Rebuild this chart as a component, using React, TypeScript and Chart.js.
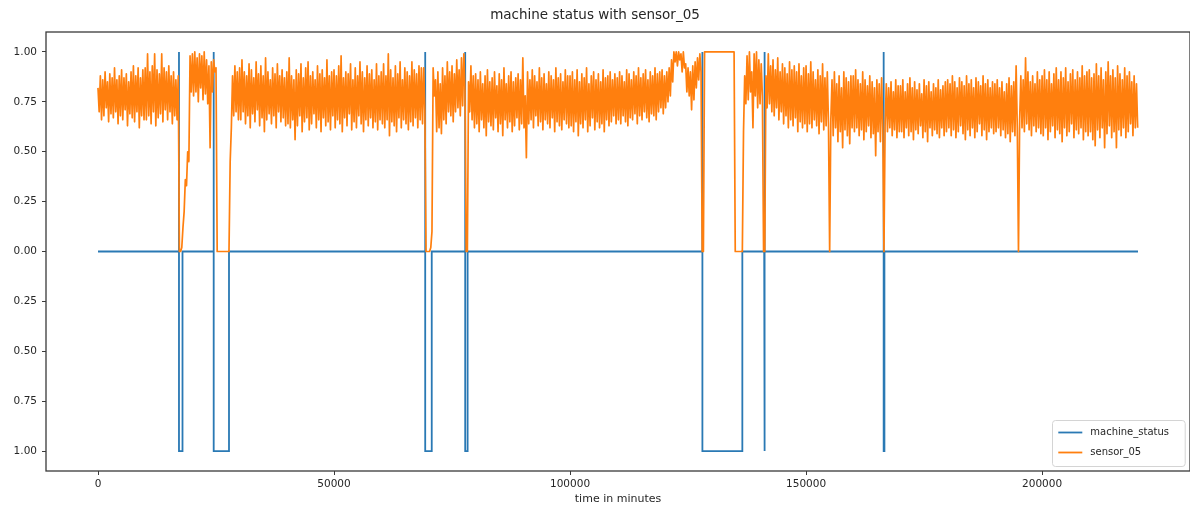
import React, { useEffect, useRef } from "react";
import { Chart, registerables } from "chart.js";

Chart.register(...registerables);

const TITLE = "machine status with sensor_05";
const X_LABEL = "time in minutes";
const SERIES_NAMES = ["machine_status", "sensor_05"];
const X_TICKS = [0, 50000, 100000, 150000, 200000];
const Y_TICKS = [-1, -0.75, -0.5, -0.25, 0, 0.25, 0.5, 0.75, 1];
const Y_TICK_LABELS = ["1.00", "0.75", "0.50", "0.25", "0.00", "0.25", "0.50", "0.75", "1.00"];
const X_MIN = -11016;
const X_MAX = 231336;
const Y_MIN = -1.1;
const Y_MAX = 1.1;

// machine_status: 0 normal, 1 broken, -1 recovering
const STATUS_TIMES = [
  0, 17154, 17155, 17156, 17900, 17901,
  24509, 24510, 24511, 27750, 27751,
  69317, 69318, 69319, 70700, 70701,
  77789, 77790, 77791, 78300, 78301,
  128039, 128040, 128041, 136500, 136501,
  141130, 141131, 141132, 141300, 141301,
  166439, 166440, 166441, 166600, 166601,
  220320,
];
const STATUS_VALUES = [
  0, 0, 1, -1, -1, 0,
  0, 1, -1, -1, 0,
  0, 1, -1, -1, 0,
  0, 1, -1, -1, 0,
  0, 1, -1, -1, 0,
  0, 1, -1, -1, 0,
  0, 1, -1, -1, 0,
  0,
];

// sensor_05: per 500-minute bin, the peak (at bin start) and trough (at bin middle)
const SENSOR_STEP = 500;
const SENSOR_05_HIGH = [
  0.82,0.88,0.86,0.90,0.85,0.89,0.87,0.92,0.86,0.88,0.91,0.87,0.89,0.85,0.90,0.93,0.88,0.92,0.87,0.91,
  0.92,0.99,0.90,0.93,0.99,0.91,0.89,0.99,0.92,0.90,0.93,0.88,0.90,0.86,0.88,0.00,0.12,0.36,0.50,0.98,
  0.99,1.00,0.97,0.99,0.98,1.00,0.96,0.93,0.95,0.96,0.92,0.00,0.00,0.00,0.00,0.00,0.45,0.88,0.93,0.90,
  0.92,0.96,0.90,0.88,0.94,0.91,0.87,0.95,0.89,0.93,0.88,0.97,0.90,0.86,0.92,0.89,0.94,0.88,0.91,0.87,
  0.90,0.97,0.88,0.86,0.91,0.89,0.94,0.87,0.92,0.95,0.88,0.90,0.86,0.93,0.89,0.91,0.87,0.96,0.88,0.90,
  0.91,0.88,0.93,0.98,0.87,0.90,0.89,0.94,0.86,0.92,0.88,0.95,0.90,0.87,0.93,0.89,0.91,0.86,0.94,0.88,
  0.90,0.94,0.88,0.99,0.91,0.87,0.93,0.89,0.95,0.86,0.92,0.90,0.88,0.95,0.91,0.89,0.93,0.92,0.92,0.00,
  0.00,0.02,0.92,0.86,0.90,0.84,0.92,0.88,0.95,0.90,0.93,0.89,0.96,0.91,0.97,0.99,0.00,0.85,0.93,0.88,
  0.89,0.86,0.90,0.84,0.88,0.91,0.85,0.87,0.90,0.83,0.89,0.86,0.92,0.84,0.88,0.90,0.85,0.87,0.89,0.86,
  0.97,0.78,0.90,0.86,0.91,0.88,0.85,0.92,0.87,0.89,0.84,0.90,0.88,0.86,0.92,0.87,0.89,0.85,0.91,0.88,
  0.88,0.90,0.86,0.91,0.85,0.89,0.87,0.92,0.84,0.88,0.90,0.86,0.89,0.85,0.91,0.87,0.88,0.90,0.86,0.89,
  0.87,0.90,0.88,0.85,0.91,0.89,0.86,0.90,0.88,0.92,0.87,0.89,0.91,0.86,0.90,0.88,0.92,0.89,0.90,0.91,
  0.88,0.90,0.92,0.96,1.00,1.00,1.00,0.99,1.00,0.94,0.92,0.90,0.93,0.95,0.97,0.99,0.00,1.00,1.00,1.00,
  1.00,1.00,1.00,1.00,1.00,1.00,1.00,1.00,1.00,1.00,0.00,0.00,0.00,0.00,0.88,0.98,1.00,0.90,0.99,1.00,
  0.96,0.94,0.00,0.88,0.99,0.93,0.96,0.91,0.97,0.90,0.94,0.92,0.89,0.95,0.91,0.93,0.90,0.94,0.88,0.92,
  0.93,0.89,0.95,0.90,0.86,0.91,0.88,0.94,0.87,0.90,0.00,0.86,0.90,0.84,0.88,0.82,0.90,0.87,0.85,0.88,
  0.88,0.91,0.86,0.84,0.90,0.86,0.83,0.88,0.85,0.82,0.86,0.84,0.87,0.00,0.84,0.82,0.85,0.80,0.86,0.83,
  0.83,0.86,0.80,0.84,0.87,0.82,0.85,0.81,0.84,0.79,0.86,0.83,0.85,0.80,0.84,0.82,0.86,0.81,0.83,0.85,
  0.86,0.84,0.88,0.85,0.82,0.87,0.85,0.83,0.88,0.84,0.86,0.82,0.87,0.85,0.83,0.88,0.84,0.86,0.82,0.85,
  0.84,0.86,0.82,0.85,0.80,0.84,0.87,0.83,0.85,0.93,0.00,0.88,0.86,0.97,0.90,0.85,0.88,0.84,0.90,0.86,
  0.88,0.91,0.86,0.90,0.84,0.89,0.92,0.86,0.90,0.87,0.92,0.85,0.89,0.91,0.86,0.90,0.87,0.93,0.88,0.90,
  0.91,0.87,0.89,0.94,0.88,0.92,0.86,0.90,0.95,0.88,0.91,0.87,0.93,0.89,0.86,0.92,0.88,0.90,0.85,0.88,
  0.84,
];
const SENSOR_05_LOW = [
  0.70,0.66,0.68,0.72,0.65,0.69,0.67,0.70,0.64,0.68,0.66,0.71,0.63,0.69,0.67,0.65,0.70,0.62,0.68,0.66,
  0.66,0.68,0.64,0.70,0.63,0.67,0.69,0.65,0.71,0.66,0.70,0.64,0.68,0.66,0.00,0.02,0.20,0.33,0.45,0.80,
  0.78,0.80,0.75,0.82,0.76,0.79,0.74,0.52,0.80,0.90,0.00,0.00,0.00,0.00,0.00,0.00,0.62,0.68,0.70,0.66,
  0.66,0.70,0.64,0.68,0.62,0.69,0.65,0.71,0.63,0.67,0.60,0.66,0.69,0.64,0.68,0.62,0.70,0.65,0.67,0.63,
  0.64,0.62,0.66,0.56,0.63,0.68,0.60,0.65,0.67,0.61,0.64,0.69,0.62,0.66,0.60,0.67,0.63,0.65,0.61,0.68,
  0.62,0.66,0.64,0.60,0.67,0.63,0.69,0.61,0.65,0.62,0.68,0.64,0.60,0.66,0.63,0.67,0.62,0.65,0.61,0.66,
  0.64,0.62,0.66,0.58,0.65,0.63,0.60,0.67,0.62,0.66,0.64,0.61,0.65,0.63,0.67,0.62,0.66,0.64,0.70,0.00,
  0.00,0.10,0.78,0.60,0.62,0.59,0.66,0.64,0.70,0.68,0.65,0.70,0.72,0.68,0.73,0.80,0.00,0.70,0.66,0.62,
  0.64,0.60,0.66,0.62,0.58,0.65,0.63,0.61,0.67,0.60,0.64,0.58,0.66,0.62,0.65,0.60,0.63,0.67,0.61,0.64,
  0.62,0.47,0.64,0.66,0.62,0.68,0.63,0.65,0.61,0.66,0.64,0.62,0.67,0.60,0.65,0.63,0.61,0.66,0.64,0.62,
  0.63,0.60,0.65,0.58,0.64,0.62,0.66,0.60,0.63,0.67,0.61,0.65,0.62,0.64,0.60,0.66,0.63,0.65,0.68,0.64,
  0.66,0.64,0.68,0.65,0.63,0.67,0.66,0.69,0.64,0.68,0.66,0.70,0.67,0.65,0.69,0.68,0.66,0.70,0.72,0.69,
  0.72,0.75,0.78,0.85,0.95,0.93,0.96,0.90,0.92,0.80,0.78,0.71,0.76,0.82,0.86,0.90,0.00,1.00,1.00,1.00,
  1.00,1.00,1.00,1.00,1.00,1.00,1.00,1.00,1.00,1.00,0.00,0.00,0.00,0.60,0.74,0.76,0.80,0.62,0.78,0.72,
  0.74,0.78,0.00,0.72,0.74,0.70,0.68,0.72,0.66,0.70,0.64,0.68,0.62,0.66,0.63,0.67,0.60,0.65,0.62,0.64,
  0.60,0.64,0.62,0.66,0.63,0.59,0.65,0.61,0.63,0.64,0.66,0.58,0.62,0.55,0.60,0.52,0.61,0.58,0.54,0.62,
  0.60,0.62,0.58,0.61,0.56,0.60,0.63,0.57,0.59,0.48,0.60,0.55,0.62,0.64,0.60,0.62,0.58,0.61,0.57,0.60,
  0.60,0.57,0.62,0.58,0.60,0.56,0.61,0.59,0.63,0.57,0.60,0.55,0.62,0.58,0.61,0.59,0.57,0.62,0.58,0.60,
  0.62,0.58,0.61,0.57,0.60,0.63,0.59,0.56,0.61,0.58,0.62,0.57,0.60,0.64,0.58,0.61,0.56,0.60,0.62,0.59,
  0.60,0.62,0.58,0.61,0.57,0.59,0.55,0.60,0.58,0.62,0.66,0.62,0.60,0.64,0.61,0.58,0.63,0.60,0.62,0.59,
  0.58,0.62,0.56,0.60,0.63,0.57,0.61,0.59,0.55,0.62,0.58,0.60,0.64,0.57,0.61,0.59,0.62,0.56,0.60,0.58,
  0.60,0.56,0.53,0.61,0.57,0.62,0.52,0.59,0.63,0.57,0.60,0.52,0.61,0.58,0.62,0.57,0.60,0.64,0.58,0.62,
  0.62,
];

const FONT = "'DejaVu Sans', sans-serif";
const TEXT_COLOR = "#262626";
const AXIS_COLOR = "#3a3a3a";
const BLUE = "#2a79b4";
const ORANGE = "#ff7f0e";

const framePlugin = {
  id: "frame",
  afterDatasetsDraw(chart: any) {
    const { ctx, chartArea } = chart;
    const { left, top, right, bottom } = chartArea;
    ctx.save();
    ctx.strokeStyle = AXIS_COLOR;
    ctx.lineWidth = 1.3;
    ctx.strokeRect(left, top, right - left, bottom - top);
    ctx.restore();
  },
};

const legendPlugin = {
  id: "boxLegend",
  afterDraw(chart: any) {
    const { ctx, chartArea } = chart;
    ctx.save();
    ctx.font = `10px ${FONT}`;
    const textW = Math.max(...SERIES_NAMES.map((n) => ctx.measureText(n).width));
    const w = textW + 54;
    const h = 46;
    const x = chartArea.right - 5 - w;
    const y = chartArea.bottom - 5 - h;
    ctx.beginPath();
    (ctx as any).roundRect(Math.round(x) + 0.5, Math.round(y) + 0.5, w, h, 3);
    ctx.fillStyle = "rgba(255,255,255,0.85)";
    ctx.fill();
    ctx.strokeStyle = "#d4d4d4";
    ctx.lineWidth = 1;
    ctx.stroke();
    chart.data.datasets.forEach((ds: any, i: number) => {
      const cy = y + 12.5 + i * 20;
      ctx.strokeStyle = ds.borderColor;
      ctx.lineWidth = 1.8;
      ctx.beginPath();
      ctx.moveTo(x + 6, cy);
      ctx.lineTo(x + 30, cy);
      ctx.stroke();
      ctx.fillStyle = TEXT_COLOR;
      ctx.textBaseline = "middle";
      ctx.textAlign = "left";
      ctx.fillText(ds.label, x + 38, cy);
    });
    ctx.restore();
  },
};

export default function App() {
  const ref = useRef<HTMLCanvasElement>(null);

  useEffect(() => {
    document.body.style.margin = "0";
    const canvas = ref.current;
    if (!canvas) return;
    const statusPoints = STATUS_TIMES.map((t, i) => ({ x: t, y: STATUS_VALUES[i] }));
    const sensorPoints = SENSOR_05_HIGH.flatMap((hi, i) => [
      { x: i * SENSOR_STEP, y: hi },
      { x: i * SENSOR_STEP + SENSOR_STEP / 2, y: SENSOR_05_LOW[i] },
    ]);

    const chart = new Chart(canvas, {
      type: "line",
      data: {
        datasets: [
          {
            label: SERIES_NAMES[0],
            data: statusPoints,
            borderColor: BLUE,
            backgroundColor: BLUE,
            borderWidth: 1.8,
            pointRadius: 0,
            tension: 0,
            order: 1,
          },
          {
            label: SERIES_NAMES[1],
            data: sensorPoints,
            borderColor: ORANGE,
            backgroundColor: ORANGE,
            borderWidth: 1.7,
            pointRadius: 0,
            tension: 0,
            borderJoinStyle: "round",
            order: 0,
          },
        ],
      },
      options: {
        animation: false,
        responsive: false,
        maintainAspectRatio: false,
        layout: { padding: 0 },
        events: [],
        plugins: {
          legend: { display: false },
          tooltip: { enabled: false },
          title: {
            display: true,
            text: TITLE,
            color: TEXT_COLOR,
            font: { family: FONT, size: 13.5, weight: "normal" as any, lineHeight: 1.2 },
            padding: { top: 7, bottom: 8.8 },
          },
        },
        scales: {
          x: {
            type: "linear",
            min: X_MIN,
            max: X_MAX,
            afterBuildTicks: (scale: any) => {
              scale.ticks = X_TICKS.map((v) => ({ value: v }));
            },
            afterFit: (scale: any) => {
              scale.height = 39;
            },
            grid: {
              drawOnChartArea: false,
              drawTicks: true,
              tickLength: 4,
              tickColor: AXIS_COLOR,
              tickWidth: 1,
            },
            border: { display: false },
            ticks: {
              autoSkip: false,
              maxRotation: 0,
              padding: 3,
              color: TEXT_COLOR,
              font: { family: FONT, size: 10.5 },
              callback: (v: any) => String(v),
            },
            title: {
              display: true,
              text: X_LABEL,
              color: TEXT_COLOR,
              font: { family: FONT, size: 11, lineHeight: 1.2 },
              padding: { top: 0, bottom: 4 },
            },
          },
          y: {
            type: "linear",
            min: Y_MIN,
            max: Y_MAX,
            afterBuildTicks: (scale: any) => {
              scale.ticks = Y_TICKS.map((v) => ({ value: v }));
            },
            afterFit: (scale: any) => {
              scale.width = 46;
            },
            grid: {
              drawOnChartArea: false,
              drawTicks: true,
              tickLength: 4,
              tickColor: AXIS_COLOR,
              tickWidth: 1,
            },
            border: { display: false },
            ticks: {
              autoSkip: false,
              padding: 5,
              color: TEXT_COLOR,
              font: { family: FONT, size: 10.5 },
              callback: (_v: any, i: number) => Y_TICK_LABELS[i],
            },
          },
        },
      },
      plugins: [framePlugin, legendPlugin],
    });

    return () => chart.destroy();
  }, []);

  return (
    <div style={{ width: 1190, height: 510, overflow: "hidden" }}>
      <canvas ref={ref} width={1190} height={510} style={{ display: "block" }} />
    </div>
  );
}
